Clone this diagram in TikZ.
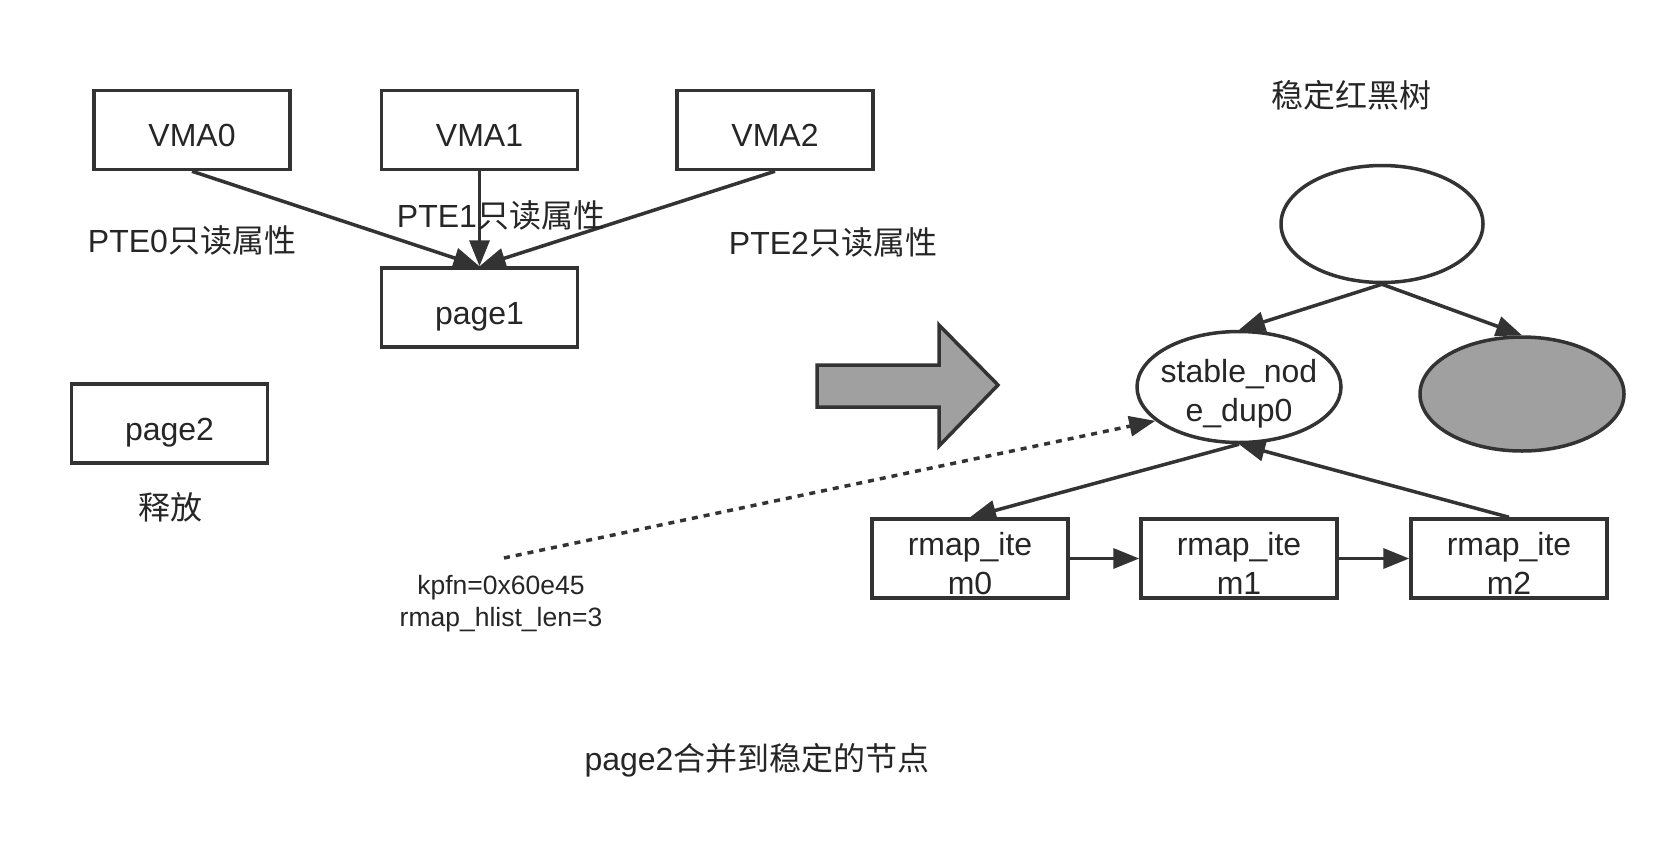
\documentclass[tikz,border=0pt]{standalone}
\usepackage{fontspec}
\setmainfont{Liberation Sans}
\newfontfamily\cjk{Noto Sans CJK SC}
\usetikzlibrary{arrows.meta,shapes.geometric}
\definecolor{linec}{HTML}{333333}
\definecolor{textc}{HTML}{262626}
\definecolor{fillg}{HTML}{A0A0A0}
\newcommand{\lw}[2][9pt]{\raisebox{-#1}[\height][\depth]{\begin{tabular}{@{}c@{}}#2\end{tabular}}}
\begin{document}
\begin{tikzpicture}[x=1pt,y=-1pt,
  every node/.style={text=textc},
  bigfont/.style={font=\fontsize{32}{38.4}\selectfont},
  smallfont/.style={font=\fontsize{26.5}{32}\selectfont},
  box/.style={draw=linec,line width=3.5pt,minimum width=196pt,minimum height=79pt,inner sep=0pt,bigfont},
  oval/.style={ellipse,draw=linec,line width=3.5pt,inner sep=0pt,bigfont},
  conn/.style={draw=linec,line width=3.5pt,-{Triangle[length=26pt,width=20pt]}},
  lbl/.style={bigfont,inner sep=0pt,anchor=center}]
\path[use as bounding box,fill=white] (0,0) rectangle (1673,855);

\node[box] (v0) at (192,130) {\lw{VMA0}};
\node[box] (v1) at (479.5,130) {\lw{VMA1}};
\node[box] (v2) at (775,130) {\lw{VMA2}};
\node[box] (p1) at (479.5,307.5) {\lw{page1}};
\node[box] (p2) at (169.5,423.5) {\lw{page2}};

\draw[conn] (v0.south) -- (p1.north);
\draw[conn] (v1.south) -- (p1.north);
\draw[conn] (v2.south) -- (p1.north);

\node[lbl] (l0) at (192,240) {PTE0\cjk 只读属性};
\node[lbl] (l1) at (501,215) {PTE1\cjk 只读属性};
\node[lbl] (l2) at (833,242) {PTE2\cjk 只读属性};
\node[lbl] (rel) at (170,507) {\cjk 释放};

\node[lbl] (title) at (1351,95) {\cjk 稳定红黑树};

\node[oval,minimum width=202pt,minimum height=117pt] (t) at (1382,224) {};
\node[oval,minimum width=204pt,minimum height=111pt] (sn) at (1239,387) {\makebox[0pt]{\lw[7.5pt]{stable\_nod\\e\_dup0}}};
\node[oval,fill=fillg,minimum width=204pt,minimum height=114pt] (g) at (1522,394) {};

\node[box] (r0) at (970,558.5) {\lw{rmap\_ite\\m0}};
\node[box] (r1) at (1239,558.5) {\lw{rmap\_ite\\m1}};
\node[box] (r2) at (1509,558.5) {\lw{rmap\_ite\\m2}};

\draw[conn] (t.south) -- (sn.north);
\draw[conn] (t.south) -- (g.north);
\draw[conn] (sn.south) -- (r0.north);
\draw[conn] (r2.north) -- (sn.south);
\draw[conn] (r0.east) -- (r1.west);
\draw[conn] (r1.east) -- (r2.west);

\draw[draw=linec,line width=3.5pt,fill=fillg,line join=miter]
  (817,365) -- (939,365) -- (939,325) -- (998,385) -- (939,446) -- (939,407) -- (817,407) -- cycle;

\coordinate (k) at (504,558);
\draw[conn,dash pattern=on 6pt off 6pt] (k) -- (sn.202);

\node[smallfont,inner sep=0pt,align=center] (kp) at (501,604) {kpfn=0x60e45\\rmap\_hlist\_len=3};

\node[lbl] (cap) at (757,760) {page2\cjk 合并到稳定的节点};
\end{tikzpicture}
\end{document}
